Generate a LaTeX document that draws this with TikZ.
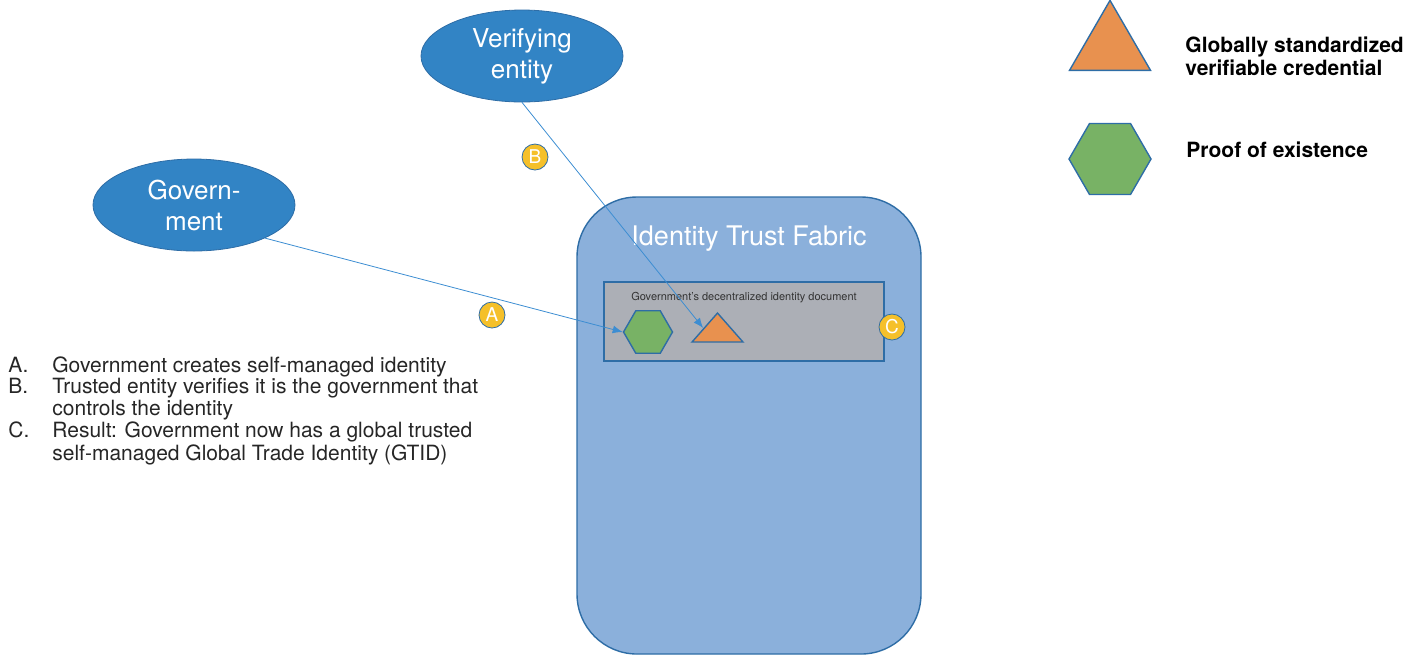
\documentclass[tikz,border=0pt]{standalone}
\usepackage{fontspec}
\setmainfont{TeX Gyre Heros}
\usepackage{tikz}
\usetikzlibrary{arrows.meta,positioning,shapes.geometric}
\definecolor{entityblue}{HTML}{3284C5}
\definecolor{edgeblue}{HTML}{2E6DA6}
\definecolor{fabricblue}{HTML}{8BB0DB}
\definecolor{docgray}{HTML}{ACAFB6}
\definecolor{proofgreen}{HTML}{78B265}
\definecolor{credorange}{HTML}{E8914F}
\definecolor{stepyellow}{HTML}{F5C02A}
\definecolor{linkblue}{HTML}{3C8DD2}
\tikzstyle{party}=[ellipse,draw=edgeblue,fill=entityblue,text=white,minimum width=101pt,minimum height=46pt,inner sep=0pt,align=center,font=\fontsize{13}{15.5}\selectfont]
\tikzstyle{proof}=[regular polygon,regular polygon sides=6,draw=edgeblue,fill=proofgreen,inner sep=0pt,line width=0.7pt]
\tikzstyle{cred}=[isosceles triangle,isosceles triangle stretches,shape border rotate=90,draw=edgeblue,fill=credorange,inner sep=0pt,line width=0.7pt]
\tikzstyle{marker}=[circle,draw=edgeblue,fill=stepyellow,text=white,minimum size=13pt,inner sep=0pt,font=\fontsize{9.5}{10}\selectfont]
\tikzstyle{keytext}=[anchor=base west,inner sep=0pt,align=left,font=\bfseries\fontsize{10.5}{11.5}\selectfont]
\tikzstyle{link}=[draw=linkblue,line width=0.4pt,-{Latex[length=5pt,width=4pt]}]

\begin{document}
\begin{tikzpicture}[x=0.5pt,y=-0.5pt]
\useasboundingbox (0,0) rectangle (1427,655);
% trust fabric with the identity document
\node [draw=edgeblue,fill=fabricblue,rounded corners=30pt,minimum width=172pt,minimum height=228.5pt,line width=0.7pt] (fabric) at (749,425.5) {};
\node [anchor=base,text=white,font=\fontsize{13.5}{16}\selectfont] (fabrictitle) at (749,245) {Identity Trust Fabric};
\node [draw=edgeblue,fill=docgray,minimum width=140pt,minimum height=39.5pt,line width=0.7pt] (diddoc) at (744,321.5) {};
\node [anchor=base,text=black!80,font=\fontsize{5.5}{6}\selectfont] (didtitle) at (744,300) {Government's decentralized identity document};
\node [proof,minimum size=24.5pt] (docproof) at (648,332) {};
\node [cred,minimum width=25.5pt,minimum height=14.5pt] (doccred) at (717.5,330.5) {};

% parties
\node [party] (verifier) at (522,56) {Verifying\\entity};
\node [party] (govt) at (194,205) {Govern-\\ment};

% step markers
\node [marker] (stepA) at (492,315) {A};
\node [marker] (stepB) at (535,157) {B};
\node [marker] (stepC) at (892,327) {C};

% legend
\node [cred,minimum width=40.5pt,minimum height=35pt] (keycred) at (1110,47) {};
\node [keytext] (keycredtext) at (1185,75) {Globally standardized\\verifiable credential};
\node [proof,minimum size=41pt] (keyproof) at (1110,159) {};
\node [keytext] (keyprooftext) at (1186,157) {Proof of existence};

% steps
\node [anchor=base west,inner sep=0pt,text=black!85,font=\fontsize{10.5}{10.85}\selectfont] (steplist) at (8,372) {%
\begin{tabular}[t]{@{}p{22pt}@{}l@{}}
A. & Government creates self-managed identity\\
B. & Trusted entity verifies it is the government that\\
   & controls the identity\\
C. & Result: Government now has a global trusted\\
   & self-managed Global Trade Identity (GTID)
\end{tabular}};

% links
\draw [link] (govt.-25) -- (docproof.west);
\draw [link] (verifier.south) -- (doccred.170);
\end{tikzpicture}
\end{document}
